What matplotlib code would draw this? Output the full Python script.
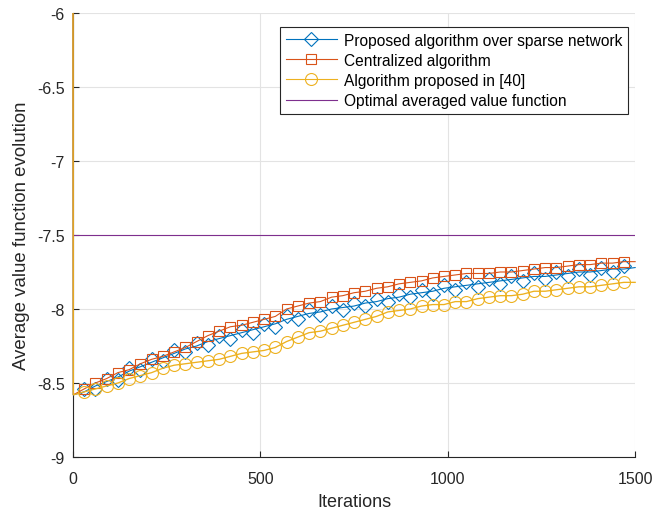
import matplotlib
matplotlib.use("Agg")
import matplotlib.pyplot as plt
from matplotlib.patches import Rectangle

plt.rcParams['font.family'] = ['Liberation Sans', 'DejaVu Sans']

# ---------------- data ----------------
start_iters = [0, 1]
start_value = [-5.0, -8.58]          # first iterate lies far above the plotted range

marker_iters = list(range(30, 1500, 30))   # 30 ... 1470

# Proposed algorithm over sparse network (smooth line + marker samples)
proposed_line_iters = list(range(30, 1501, 30))
proposed_line = [-8.56, -8.52, -8.49, -8.46, -8.42, -8.39, -8.36, -8.33, -8.30, -8.27,
                 -8.25, -8.22, -8.20, -8.18, -8.16, -8.14, -8.12, -8.10, -8.07, -8.05,
                 -8.03, -8.02, -8.00, -7.99, -7.98, -7.96, -7.95, -7.93, -7.92, -7.90,
                 -7.89, -7.88, -7.86, -7.85, -7.84, -7.83, -7.82, -7.81, -7.80, -7.79,
                 -7.78, -7.78, -7.77, -7.76, -7.75, -7.75, -7.74, -7.73, -7.73, -7.72]
proposed_markers = [-8.54, -8.54, -8.47, -8.48, -8.40, -8.41, -8.34, -8.35, -8.28, -8.29,
                    -8.23, -8.24, -8.18, -8.20, -8.14, -8.16, -8.10, -8.12, -8.05, -8.07,
                    -8.01, -8.04, -7.98, -8.01, -7.96, -7.98, -7.93, -7.95, -7.90, -7.92,
                    -7.87, -7.90, -7.84, -7.87, -7.82, -7.85, -7.80, -7.83, -7.78, -7.81,
                    -7.76, -7.80, -7.75, -7.78, -7.73, -7.77, -7.72, -7.75, -7.71]

# Centralized algorithm
centralized = [-8.54, -8.50, -8.47, -8.43, -8.41, -8.37, -8.34, -8.32, -8.29, -8.26,
               -8.22, -8.18, -8.15, -8.12, -8.11, -8.09, -8.07, -8.05, -8.00, -7.98,
               -7.96, -7.95, -7.92, -7.91, -7.89, -7.88, -7.86, -7.85, -7.83, -7.82,
               -7.81, -7.79, -7.78, -7.77, -7.76, -7.76, -7.76, -7.75, -7.75, -7.74,
               -7.73, -7.72, -7.72, -7.71, -7.70, -7.70, -7.69, -7.69, -7.68]
centralized_end = -7.68

# Algorithm proposed in [40]
ref40 = [-8.56, -8.54, -8.52, -8.50, -8.47, -8.45, -8.43, -8.40, -8.38, -8.37,
         -8.36, -8.35, -8.34, -8.32, -8.30, -8.29, -8.28, -8.26, -8.22, -8.19,
         -8.16, -8.15, -8.13, -8.11, -8.09, -8.07, -8.05, -8.02, -8.01, -8.00,
         -7.98, -7.97, -7.97, -7.95, -7.95, -7.93, -7.92, -7.91, -7.91, -7.90,
         -7.88, -7.88, -7.87, -7.86, -7.85, -7.85, -7.84, -7.83, -7.82]
ref40_end = -7.82

optimal_iters = [0, 1500]
optimal_value = -7.5

labels = ['Proposed algorithm over sparse network', 'Centralized algorithm',
          'Algorithm proposed in [40]', 'Optimal averaged value function']

xticks = [0, 500, 1000, 1500]
yticks = [-9, -8.5, -8, -7.5, -7, -6.5, -6]
ytick_labels = ['-9', '-8.5', '-8', '-7.5', '-7', '-6.5', '-6']

# ---------------- plot ----------------
C_BLUE = '#0072BD'
C_ORANGE = '#D95319'
C_YELLOW = '#EDB120'
C_PURPLE = '#7E2F8E'
AX_COL = '#262626'

fig = plt.figure(figsize=(6.63, 5.10), dpi=100)
ax = fig.add_axes([0.110, 0.102, 0.848, 0.8705])

# clip region slightly wider than the axes so the line at x=0 shows fully
clip_rect = Rectangle((-0.01, 0), 1.02, 1, transform=ax.transAxes, visible=False)
ax.add_patch(clip_rect)

lw = 0.8
ms_d, ms_s, ms_o = 8.5, 7.8, 8.6

# blue
l, = ax.plot(start_iters + proposed_line_iters, start_value + proposed_line,
             color=C_BLUE, lw=lw, zorder=3)
l.set_clip_path(clip_rect)
ax.plot(marker_iters, proposed_markers, ls='none', marker='D', ms=ms_d * 0.8,
        mfc='none', mec=C_BLUE, mew=lw, zorder=3)
h1, = ax.plot([], [], color=C_BLUE, lw=lw, marker='D', ms=ms_d * 0.8, mfc='none', mec=C_BLUE, mew=lw)

# orange
c_x = start_iters + marker_iters + [1500]
c_y = start_value + centralized + [centralized_end]
l, = ax.plot(c_x, c_y, color=C_ORANGE, lw=lw, zorder=3)
l.set_clip_path(clip_rect)
ax.plot(marker_iters, centralized, ls='none', marker='s', ms=ms_s,
        mfc='none', mec=C_ORANGE, mew=lw, zorder=3)
h2, = ax.plot([], [], color=C_ORANGE, lw=lw, marker='s', ms=ms_s, mfc='none', mec=C_ORANGE, mew=lw)

# yellow
y_x = start_iters + marker_iters + [1500]
y_y = start_value + ref40 + [ref40_end]
l, = ax.plot(y_x, y_y, color=C_YELLOW, lw=lw * 1.2, zorder=3.1)
l.set_clip_path(clip_rect)
ax.plot(marker_iters, ref40, ls='none', marker='o', ms=ms_o,
        mfc='none', mec=C_YELLOW, mew=lw, zorder=3.1)
h3, = ax.plot([], [], color=C_YELLOW, lw=lw, marker='o', ms=ms_o, mfc='none', mec=C_YELLOW, mew=lw)

# optimal
h4, = ax.plot(optimal_iters, [optimal_value] * len(optimal_iters), color=C_PURPLE, lw=lw, zorder=3)

ax.set_xlim(0, 1500)
ax.set_ylim(-9, -6)
ax.set_xticks(xticks)
ax.set_yticks(yticks)
ax.set_yticklabels(ytick_labels)

ax.grid(True, color='#e3e3e3', lw=0.8)
ax.set_axisbelow(True)
for s in ['top', 'right']:
    ax.spines[s].set_visible(False)
for s in ['left', 'bottom']:
    ax.spines[s].set_color(AX_COL)
    ax.spines[s].set_linewidth(0.8)
    ax.spines[s].set_zorder(2.5)
ax.tick_params(direction='in', length=4, width=0.8, colors=AX_COL, labelsize=11.5,
               labelcolor=AX_COL)
ax.tick_params(axis='x', pad=10)
ax.tick_params(axis='y', pad=6)

ax.set_xlabel('Iterations', fontsize=13, color=AX_COL, labelpad=5)
ax.set_ylabel('Average value function evolution', fontsize=13.4, color=AX_COL, labelpad=5)

leg = ax.legend([h1, h2, h3, h4], labels, loc='upper right', bbox_to_anchor=(0.987, 0.968),
                fontsize=11.2, handlelength=3.3, handletextpad=0.45, labelspacing=0.33,
                borderpad=0.35, borderaxespad=0.0, fancybox=False, framealpha=1,
                edgecolor=AX_COL)
leg.get_frame().set_linewidth(0.8)

fig.savefig('out.png', dpi=100)
